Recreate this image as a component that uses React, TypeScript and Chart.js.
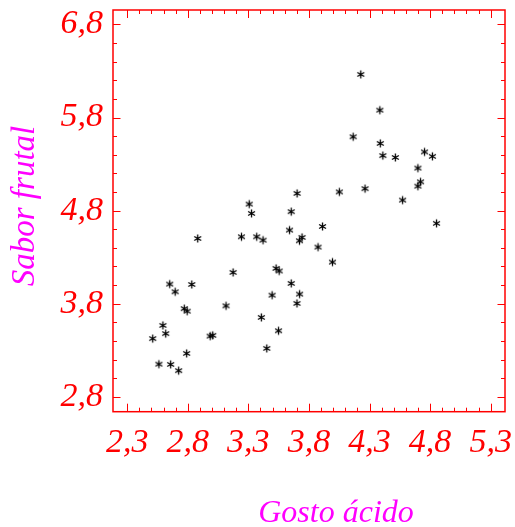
import React, { useEffect, useRef } from "react";
import { Chart, registerables } from "chart.js";

Chart.register(...registerables);

// ---- data ----
const xValues = [
  2.882, 3.243, 3.174, 2.651, 2.833, 2.696, 2.771, 2.795, 3.116, 2.595,
  2.618, 2.511, 2.985, 3.006, 2.791, 2.562, 2.659, 2.725,
  3.702, 4.051, 3.307, 3.326, 3.654, 3.64, 3.912, 3.369, 3.421, 3.743,
  3.722, 3.875, 3.994, 3.529, 3.554, 3.654, 3.496, 3.723, 3.701, 3.407,
  3.549, 3.452,
  4.228, 4.385, 4.165, 4.389, 4.41, 4.513, 4.754, 4.819, 4.699, 4.721,
  4.699, 4.263, 4.573, 4.853,
];
const yValues = [
  4.501, 4.519, 4.136, 4.011, 4.007, 3.928, 3.747, 3.72, 3.777, 3.567,
  3.479, 3.425, 3.452, 3.46, 3.266, 3.151, 3.148, 3.081,
  4.985, 5.001, 4.87, 4.77, 4.789, 4.591, 4.63, 4.519, 4.483, 4.512,
  4.476, 4.408, 4.247, 4.179, 4.152, 4.018, 3.892, 3.903, 3.803, 3.653,
  3.509, 3.32,
  6.263, 5.879, 5.593, 5.522, 5.391, 5.371, 5.431, 5.383, 5.257, 5.109,
  5.063, 5.036, 4.913, 4.663,
];
const xTickValues = [2.3, 2.8, 3.3, 3.8, 4.3, 4.8, 5.3];
const yTickValues = [2.8, 3.8, 4.8, 5.8, 6.8];
const xMinorStep = 0.1;
const yMinorStep = 0.2;
const xRange = [2.183, 5.418];
const yRange = [2.64, 6.955];
const xTitle = "Gosto ácido";
const yTitle = "Sabor frutal";

const RED = "#ff0000";
const MAGENTA = "#ff00ff";
const SERIF = '"Liberation Serif", "Times New Roman", serif';

function makeAsterisk(): HTMLCanvasElement {
  const c = document.createElement("canvas");
  c.width = 11;
  c.height = 11;
  const g = c.getContext("2d")!;
  g.strokeStyle = "#000";
  g.lineWidth = 1.3;
  const cx = 5.5, cy = 5.5, r = 4;
  g.beginPath();
  for (const deg of [90, 30, 150]) {
    const a = (deg * Math.PI) / 180;
    g.moveTo(cx - r * Math.cos(a), cy - r * Math.sin(a));
    g.lineTo(cx + r * Math.cos(a), cy + r * Math.sin(a));
  }
  g.stroke();
  return c;
}

const fmt = (v: number) => v.toFixed(1).replace(".", ",");

const framePlugin = {
  id: "frame",
  afterDatasetsDraw(chart: any) {
    const { ctx, chartArea: a, scales } = chart;
    const xs = scales.x, ys = scales.y;
    ctx.save();
    ctx.strokeStyle = RED;
    ctx.lineWidth = 1;
    ctx.beginPath();
    const x0 = xTickValues[0], x1 = xTickValues[xTickValues.length - 1];
    const nx = Math.round((x1 - x0) / xMinorStep);
    for (let i = 0; i <= nx; i++) {
      const v = x0 + i * xMinorStep;
      const major = i % 5 === 0;
      const len = major ? 8 : 4;
      const px = Math.round(xs.getPixelForValue(v)) + 0.5;
      ctx.moveTo(px, a.bottom);
      ctx.lineTo(px, a.bottom - len);
      ctx.moveTo(px, a.top);
      ctx.lineTo(px, a.top + len);
    }
    const y0 = yTickValues[0], y1 = yTickValues[yTickValues.length - 1];
    const ny = Math.round((y1 - y0) / yMinorStep);
    for (let i = 0; i <= ny; i++) {
      const v = y0 + i * yMinorStep;
      const major = i % 5 === 0;
      const len = major ? 7.5 : 4;
      const py = Math.round(ys.getPixelForValue(v)) + 0.5;
      ctx.moveTo(a.left, py);
      ctx.lineTo(a.left + len, py);
      ctx.moveTo(a.right, py);
      ctx.lineTo(a.right - len, py);
    }
    ctx.stroke();
    ctx.lineWidth = 1.5;
    ctx.strokeRect(a.left, a.top, a.right - a.left, a.bottom - a.top);
    ctx.restore();
  },
  afterDraw(chart: any) {
    const { ctx } = chart;
    ctx.save();
    ctx.fillStyle = MAGENTA;
    ctx.textAlign = "center";
    ctx.textBaseline = "alphabetic";
    ctx.font = `italic 32px ${SERIF}`;
    ctx.fillText(xTitle, 336, 522);
    ctx.font = `italic 33px ${SERIF}`;
    ctx.translate(25, 206);
    ctx.rotate(-Math.PI / 2);
    ctx.textBaseline = "middle";
    ctx.fillText(yTitle, 0, 0);
    ctx.restore();
  },
};

export default function App() {
  const ref = useRef<HTMLCanvasElement | null>(null);
  useEffect(() => {
    if (!ref.current) return;
    const star = makeAsterisk();
    const points = xValues.map((x, i) => ({ x, y: yValues[i] }));
    const tickFont = { family: SERIF, style: "italic" as const, size: 34 };
    const chart = new Chart(ref.current, {
      type: "scatter",
      data: {
        datasets: [
          {
            data: points,
            pointStyle: star as any,
            pointRadius: 4,
            backgroundColor: "#000",
            borderColor: "#000",
          },
        ],
      },
      options: {
        animation: false,
        responsive: true,
        maintainAspectRatio: false,
        layout: { padding: { top: 10, right: 10, left: 0, bottom: 0 } },
        plugins: { legend: { display: false }, tooltip: { enabled: false } },
        scales: {
          x: {
            type: "linear",
            min: xRange[0],
            max: xRange[1],
            afterBuildTicks: (s: any) => {
              s.ticks = xTickValues.map((value) => ({ value }));
            },
            afterFit: (s: any) => {
              s.height = 115.3;
              s.paddingLeft = 0;
              s.paddingRight = 0;
            },
            grid: { display: false, drawTicks: false },
            border: { display: false },
            ticks: {
              autoSkip: false,
              maxRotation: 0,
              color: RED,
              font: tickFont,
              padding: 11.4,
              callback: (v: any) => fmt(Number(v)),
            },
          },
          y: {
            type: "linear",
            min: yRange[0],
            max: yRange[1],
            afterBuildTicks: (s: any) => {
              s.ticks = yTickValues.map((value) => ({ value }));
            },
            afterFit: (s: any) => {
              s.width = 113;
              s.paddingTop = 0;
              s.paddingBottom = 0;
            },
            grid: { display: false, drawTicks: false },
            border: { display: false },
            ticks: {
              autoSkip: false,
              color: RED,
              font: tickFont,
              padding: 10,
              callback: (v: any) => fmt(Number(v)),
            },
          },
        },
      },
      plugins: [framePlugin],
    });
    return () => chart.destroy();
  }, []);
  return (
    <div style={{ position: "absolute", left: 0, top: 0, width: 515, height: 527 }}>
      <canvas ref={ref} />
    </div>
  );
}
